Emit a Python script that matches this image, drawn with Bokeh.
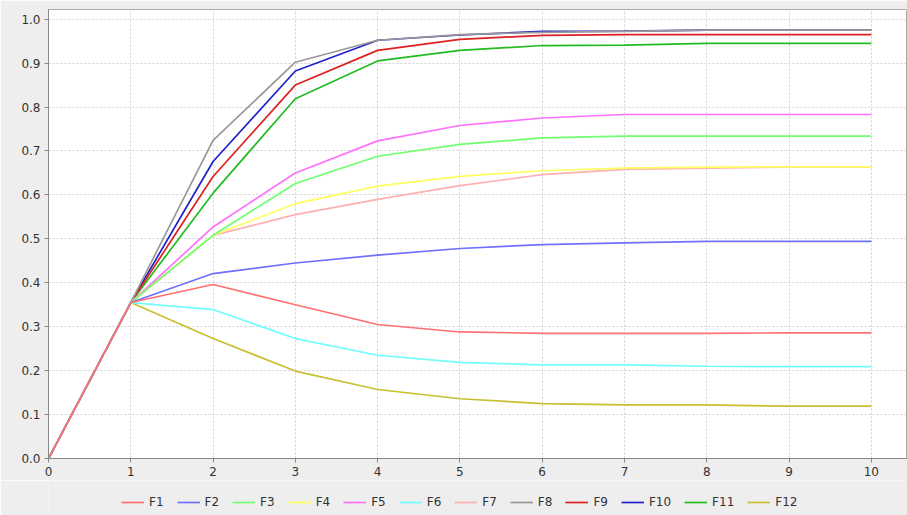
from bokeh.plotting import figure
from bokeh.layouts import column
from bokeh.models import Legend, LegendItem, FixedTicker, NumeralTickFormatter, Range1d
from bokeh.embed import file_html
from bokeh.resources import INLINE

steps = [0, 1, 2, 3, 4, 5, 6, 7, 8, 9, 10]
names = ["F1", "F2", "F3", "F4", "F5", "F6", "F7", "F8", "F9", "F10", "F11", "F12"]
F1 = [0, 0.355, 0.396, 0.350, 0.305, 0.288, 0.285, 0.285, 0.285, 0.286, 0.286]
F2 = [0, 0.355, 0.421, 0.445, 0.463, 0.478, 0.487, 0.491, 0.494, 0.494, 0.494]
F3 = [0, 0.355, 0.508, 0.626, 0.688, 0.715, 0.730, 0.734, 0.734, 0.734, 0.734]
F4 = [0, 0.355, 0.508, 0.580, 0.620, 0.642, 0.655, 0.661, 0.663, 0.664, 0.664]
F5 = [0, 0.355, 0.527, 0.650, 0.723, 0.758, 0.775, 0.783, 0.783, 0.783, 0.783]
F6 = [0, 0.355, 0.339, 0.273, 0.235, 0.219, 0.213, 0.213, 0.210, 0.209, 0.209]
F7 = [0, 0.355, 0.508, 0.555, 0.590, 0.621, 0.646, 0.658, 0.661, 0.663, 0.664]
F8 = [0, 0.355, 0.724, 0.902, 0.952, 0.965, 0.970, 0.972, 0.975, 0.975, 0.975]
F9 = [0, 0.355, 0.642, 0.850, 0.929, 0.954, 0.963, 0.965, 0.965, 0.965, 0.965]
F10 = [0, 0.355, 0.676, 0.882, 0.952, 0.964, 0.972, 0.973, 0.975, 0.975, 0.975]
F11 = [0, 0.355, 0.604, 0.819, 0.905, 0.929, 0.940, 0.941, 0.945, 0.945, 0.945]
F12 = [0, 0.355, 0.273, 0.199, 0.157, 0.136, 0.125, 0.122, 0.122, 0.119, 0.119]
series = [F1, F2, F3, F4, F5, F6, F7, F8, F9, F10, F11, F12]
colors = ["#FF7070", "#7070FF", "#70FF70", "#FFFF60", "#FF70FF", "#70FFFF",
          "#FFB0B0", "#999999", "#DD2020", "#2020CC", "#22BB22", "#C8C030"]
x_ticks = [0, 1, 2, 3, 4, 5, 6, 7, 8, 9, 10]
y_ticks = [0.0, 0.1, 0.2, 0.3, 0.4, 0.5, 0.6, 0.7, 0.8, 0.9, 1.0]

p = figure(frame_width=859, frame_height=449, output_backend="svg", toolbar_location=None,
           x_range=Range1d(0, 10.44), y_range=Range1d(0, 1.022),
           min_border_left=48, min_border_right=0, min_border_top=9, min_border_bottom=22)
p.background_fill_color = "white"
p.border_fill_color = "#EEEEEE"
p.outline_line_color = "#AAAAAA"
p.outline_line_width = 1

for i in reversed(range(len(series))):
    p.line(steps, series[i], line_color=colors[i], line_width=1.7)

for ax in (p.xaxis[0], p.yaxis[0]):
    ax.axis_line_color = "#888888"
    ax.axis_line_width = 1
    ax.major_tick_line_color = "#888888"
    ax.major_tick_out = 4
    ax.major_tick_in = 0
    ax.minor_tick_line_color = None
    ax.major_label_text_font = "DejaVu Sans"
    ax.major_label_text_font_size = "12px"
    ax.major_label_text_color = "#333333"
    ax.major_label_standoff = 4

p.xaxis[0].ticker = FixedTicker(ticks=x_ticks)
p.yaxis[0].ticker = FixedTicker(ticks=y_ticks)
p.yaxis[0].formatter = NumeralTickFormatter(format="0.0")

p.xgrid.ticker = FixedTicker(ticks=x_ticks)
p.ygrid.ticker = FixedTicker(ticks=y_ticks)
for g in (p.xgrid[0], p.ygrid[0]):
    g.grid_line_color = "#D0D0D0"
    g.grid_line_dash = "2 2"
    g.grid_line_width = 1

# legend strip below the chart (its own lines sit outside its visible ranges)
lg = figure(frame_width=907, frame_height=35, output_backend="svg", toolbar_location=None,
            x_axis_type=None, y_axis_type=None, x_range=Range1d(100, 101), y_range=Range1d(5, 6),
            min_border_left=0, min_border_right=0, min_border_top=0, min_border_bottom=0)
lg.background_fill_color = "#EEEEEE"
lg.border_fill_color = "#EEEEEE"
lg.outline_line_color = None
lg.xgrid.visible = False
lg.ygrid.visible = False
items = []
for i in range(len(series)):
    r = lg.line(steps, series[i], line_color=colors[i], line_width=1.7)
    items.append(LegendItem(label=names[i], renderers=[r]))
legend = Legend(items=items, orientation="horizontal", location=(121, 6),
                glyph_width=23, glyph_height=10, label_standoff=5, spacing=13,
                label_width=10, padding=0, margin=0, border_line_color=None,
                background_fill_alpha=0,
                label_text_font="DejaVu Sans", label_text_font_size="12px",
                label_text_color="#333333")
lg.add_layout(legend, "center")

layout = column(p, lg, spacing=0)
open("out.html", "w").write(file_html(layout, INLINE))
